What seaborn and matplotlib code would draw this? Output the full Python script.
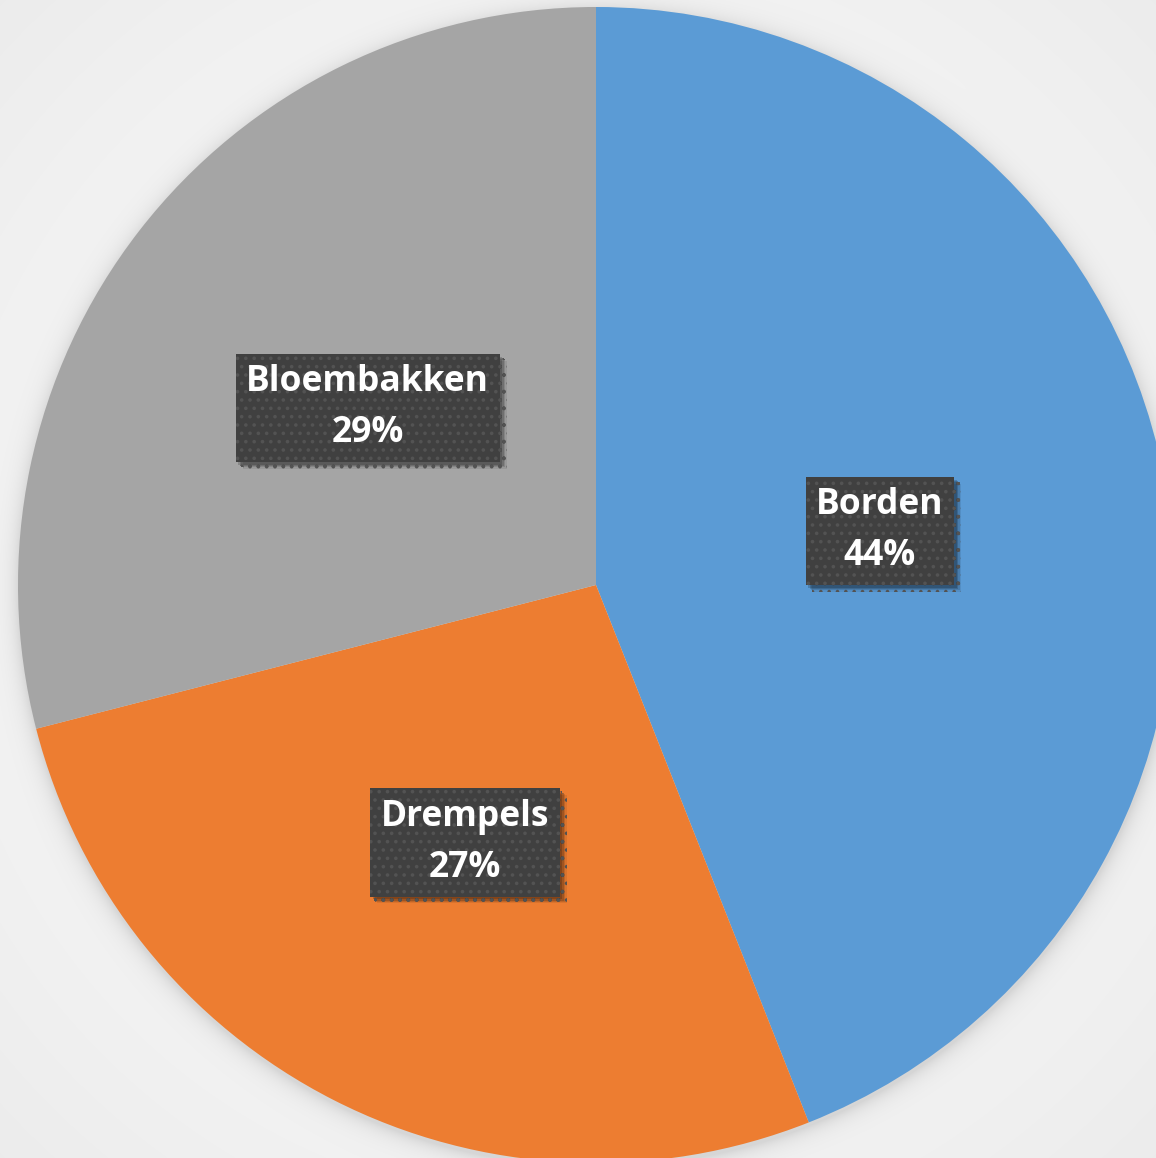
import numpy as np
import matplotlib
matplotlib.use("Agg")
import matplotlib.pyplot as plt
import matplotlib.patheffects as pe
import seaborn as sns

# Share of reported complaints per category
categories = ["Borden", "Drempels", "Bloembakken"]
shares = [44, 27, 29]
colors = ["#5B9BD5", "#ED7D31", "#A5A5A5"]

sns.set_theme(style="white")
plt.rcParams["font.family"] = ["Open Sans", "DejaVu Sans"]
plt.rcParams["hatch.linewidth"] = 1.4

W, H, DPI = 1156, 1158, 100
fig = plt.figure(figsize=(W / DPI, H / DPI), dpi=DPI)

# Pie geometry in pixels (origin top-left)
cx, cy, rad = 596.0, 585.0, 578.0

# Background: soft radial gradient with a glow-like shadow around the pie
yy, xx = np.mgrid[0:H, 0:W].astype(float)
rc = np.hypot(xx - W / 2, yy - H / 2) / np.hypot(W / 2, H / 2)
base = 0.985 - 0.06 * rc ** 1.6
d = np.hypot(xx - cx, yy - (cy + 3)) - rad
shadow = np.where(d > -4, 0.11 * np.exp(-np.clip(d, 0, None) / 9.0), 0.11)
img = np.clip(base - shadow, 0, 1)
bg = fig.add_axes([0, 0, 1, 1])
bg.imshow(np.dstack([img] * 3), origin="upper", extent=(0, W, H, 0), interpolation="bilinear")
bg.set_axis_off()

ax = fig.add_axes([(cx - rad) / W, (H - cy - rad) / H, 2 * rad / W, 2 * rad / H])
ax.set_facecolor("none")
ax.patch.set_alpha(0)

names = iter(categories)
vals = iter(shares)


def fmt(_pct):
    return f"{next(names)}\n{next(vals)}%"


wedges, texts, autotexts = ax.pie(
    shares,
    colors=sns.color_palette(colors),
    startangle=90,
    counterclock=False,
    radius=1.0,
    autopct=fmt,
    pctdistance=0.5,
    wedgeprops=dict(linewidth=0),
    textprops=dict(color="white", fontsize=25.5, fontweight="bold", linespacing=1.55),
)
ax.set_xlim(-1, 1)
ax.set_ylim(-1, 1)
ax.set_aspect("equal")
ax.set_axis_off()

# Soft drop shadow built from a few stacked, slightly offset copies
soft_shadow = [
    pe.SimplePatchShadow(offset=(o, -o), shadow_rgbFace="black", alpha=a)
    for o, a in [(5, 0.08), (4, 0.12), (3, 0.16), (2, 0.18)]
] + [pe.Normal()]

for t in autotexts:
    t.set_bbox(dict(boxstyle="square,pad=0.3", facecolor="#404040", edgecolor="#535353",
                    linewidth=0, hatch=".."))
    t.get_bbox_patch().set_path_effects(soft_shadow)

fig.savefig("out.png", dpi=DPI)
